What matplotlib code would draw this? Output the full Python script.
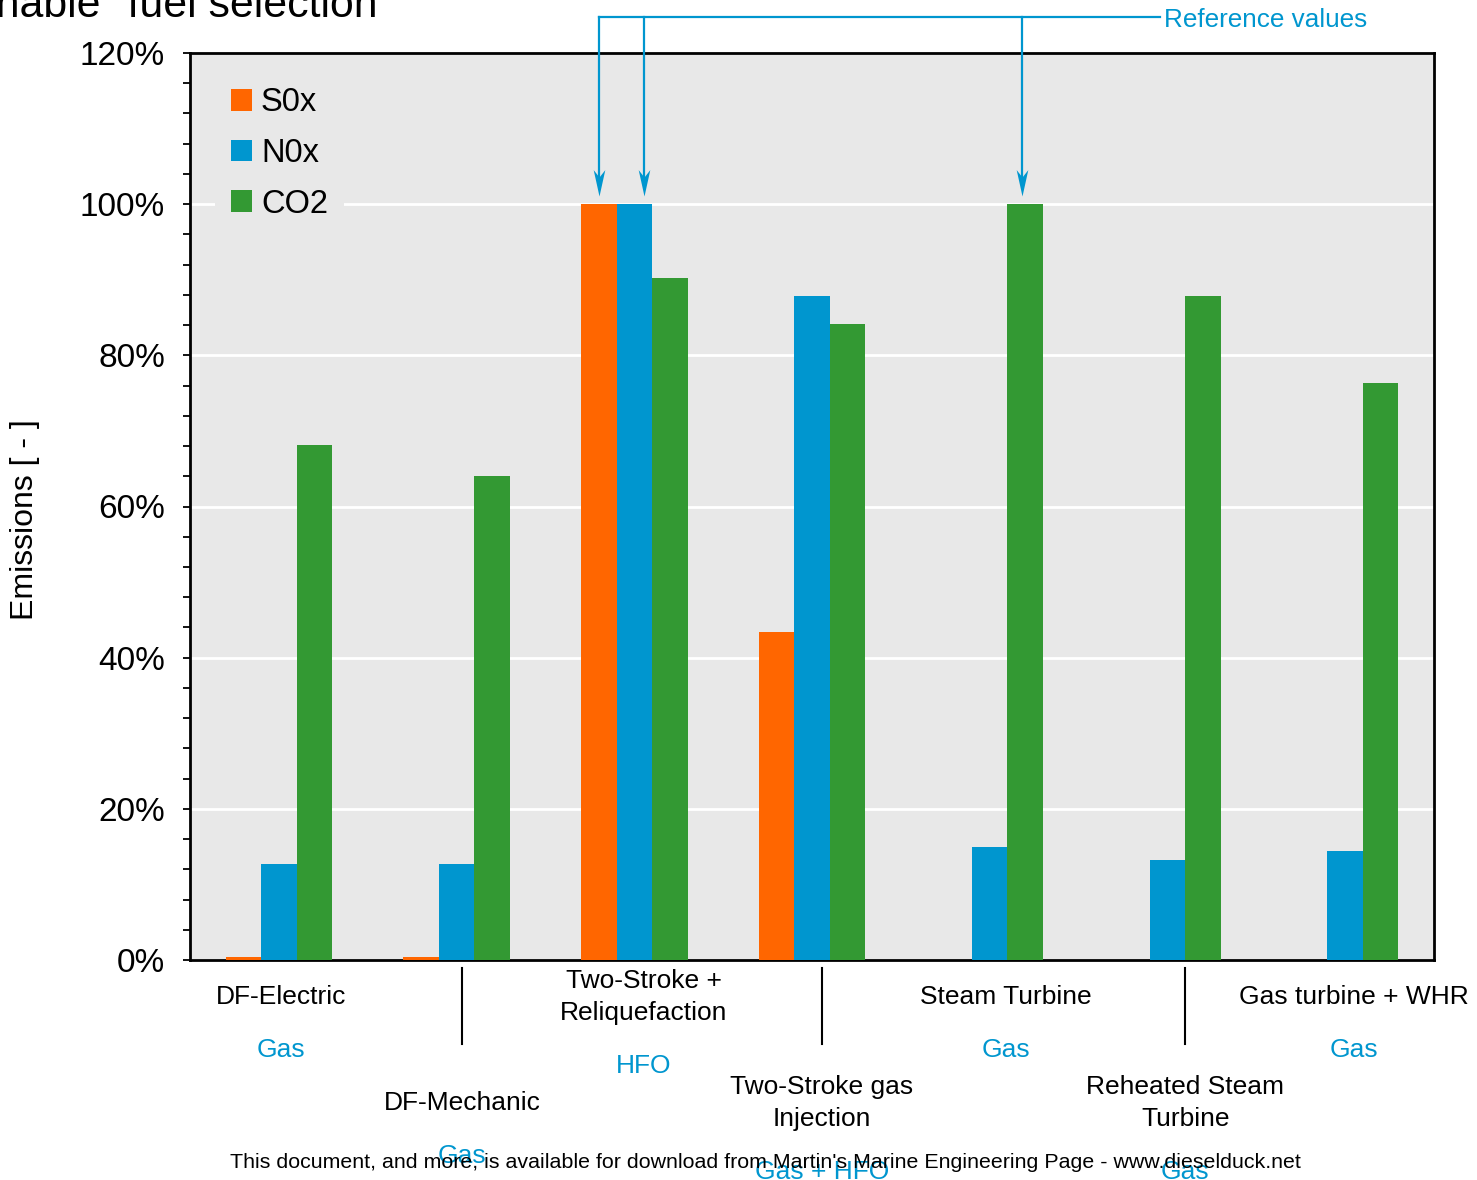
import matplotlib
matplotlib.use("Agg")
import matplotlib.pyplot as plt
import matplotlib.transforms as mtransforms
from matplotlib.path import Path
from matplotlib.ticker import MultipleLocator, FuncFormatter
import numpy as np

plt.rcParams['font.family'] = ['Liberation Sans', 'DejaVu Sans']

# ---- data -------------------------------------------------------------
systems = ["DF-Electric", "DF-Mechanic", "Two-Stroke +\nReliquefaction",
           "Two-Stroke gas\nInjection", "Steam Turbine",
           "Reheated Steam\nTurbine", "Gas turbine + WHR"]
fuels = ["Gas", "Gas", "HFO", "Gas + HFO", "Gas", "Gas", "Gas"]
series_names = ["S0x", "N0x", "CO2"]
sox = [0.4, 0.4, 100.0, 43.4, 0.0, 0.0, 0.0]
nox = [12.7, 12.7, 100.0, 87.9, 15.0, 13.2, 14.4]
co2 = [68.2, 64.0, 90.2, 84.1, 100.0, 87.9, 76.3]
# bars that serve as the 100 % reference (series index, system index)
reference_bars = [(0, 2), (1, 2), (2, 4)]

colors = ["#FF6600", "#0096CF", "#339933"]
blue_text = "#0096CF"
bg = "#E8E8E8"

W, H = 1477, 1180
fig = plt.figure(figsize=(W / 100, H / 100), dpi=100)
ax = fig.add_axes([190 / W, 1 - 960 / H, (1434 - 190) / W, (960 - 53) / H])
ax.set_facecolor(bg)

x = np.arange(len(systems))
bw = 0.2
values = [sox, nox, co2]
offsets = [-bw, 0.0, bw]
for vals, off, col, name in zip(values, offsets, colors, series_names):
    ax.bar(x + off, vals, width=bw, color=col, label=name, zorder=3,
           linewidth=0)

ax.set_xlim(-0.5, len(systems) - 0.5)
ax.set_ylim(0, 120)
ax.yaxis.set_major_locator(MultipleLocator(20))
ax.yaxis.set_minor_locator(MultipleLocator(4))
ax.yaxis.set_major_formatter(FuncFormatter(lambda v, p: f"{v:.0f}%"))
ax.tick_params(axis='y', which='both', direction='out', length=5, width=1.3,
               labelsize=24, pad=13)
ax.tick_params(axis='x', which='both', bottom=False, labelbottom=False)
ax.grid(axis='y', which='major', color='white', linewidth=2, zorder=1)
ax.set_axisbelow(True)
for sp in ax.spines.values():
    sp.set_linewidth(2)
    sp.set_color('black')

# legend
ax.legend(loc='upper left', bbox_to_anchor=(0.020, 0.980),
          fontsize=23.5, frameon=True, facecolor=bg, edgecolor='none',
          framealpha=1, fancybox=False, handlelength=0.64,
          handleheight=0.64, handletextpad=0.27, labelspacing=0.6,
          borderpad=0.5, borderaxespad=0)

# system names and fuels below the axis (labels sit slightly right of
# the bar groups)
tr = mtransforms.blended_transform_factory(ax.transData, fig.transFigure)
lab_shift = [0.01, 0.03, 0.055, 0.055, 0.09, 0.10, 0.05]
for i, (name, fuel) in enumerate(zip(systems, fuels)):
    lx = i + lab_shift[i]
    row_y = 997 if i % 2 == 0 else 1103
    ax.text(lx, 1 - row_y / H, name, transform=tr, ha='center',
            va='center', fontsize=19, linespacing=1.42)
    extra = 16 if "\n" in name else 0
    ax.text(lx, 1 - (row_y + 53 + extra) / H, fuel, transform=tr,
            ha='center', va='center', fontsize=19, color=blue_text)
    if i % 2 == 1:
        ax.plot([lx, lx], [1 - 968 / H, 1 - 1044 / H],
                transform=tr, color='black', linewidth=1.5, clip_on=False)

# reference-value call-out
stealth = Path([(0, 0), (-0.22, 1), (0, 0.72), (0.22, 1), (0, 0)],
               [Path.MOVETO, Path.LINETO, Path.LINETO, Path.LINETO,
                Path.CLOSEPOLY])
top_y = 124.7
tip_y = 101.1
arrow_nudge = [0.0, 0.055, -0.02]
ref_x = [x[j] + offsets[s] + n
         for (s, j), n in zip(reference_bars, arrow_nudge)]
for rx in ref_x:
    ax.plot([rx, rx], [top_y, tip_y + 2], color=blue_text, linewidth=1.6,
            clip_on=False, zorder=6)
    ax.plot([rx], [tip_y], marker=stealth, markersize=38, color=blue_text,
            markeredgewidth=0, clip_on=False, zorder=6)
line_end = (1160 - 190) / 177.7 - 0.5
ax.plot([min(ref_x), line_end], [top_y, top_y], color=blue_text,
        linewidth=1.6, clip_on=False, zorder=6)
ax.text(line_end + 0.02, top_y - 0.35, "Reference values", color=blue_text,
        fontsize=18.8, ha='left', va='center')

# figure texts
fig.text(393 / W, 1 - 17 / H, 'Emissions with reasonable "fuel selection"',
         ha='right', va='baseline', fontsize=30.8)
fig.text(25 / W, 1 - 520 / H, "Emissions [ - ]", rotation=90, ha='center',
         va='center', fontsize=23)
fig.text(765 / W, 1 - 1162 / H,
         "This document, and more, is available for download from Martin's "
         "Marine Engineering Page - www.dieselduck.net",
         ha='center', va='center', fontsize=15.4)

fig.savefig("out.png", dpi=100)
